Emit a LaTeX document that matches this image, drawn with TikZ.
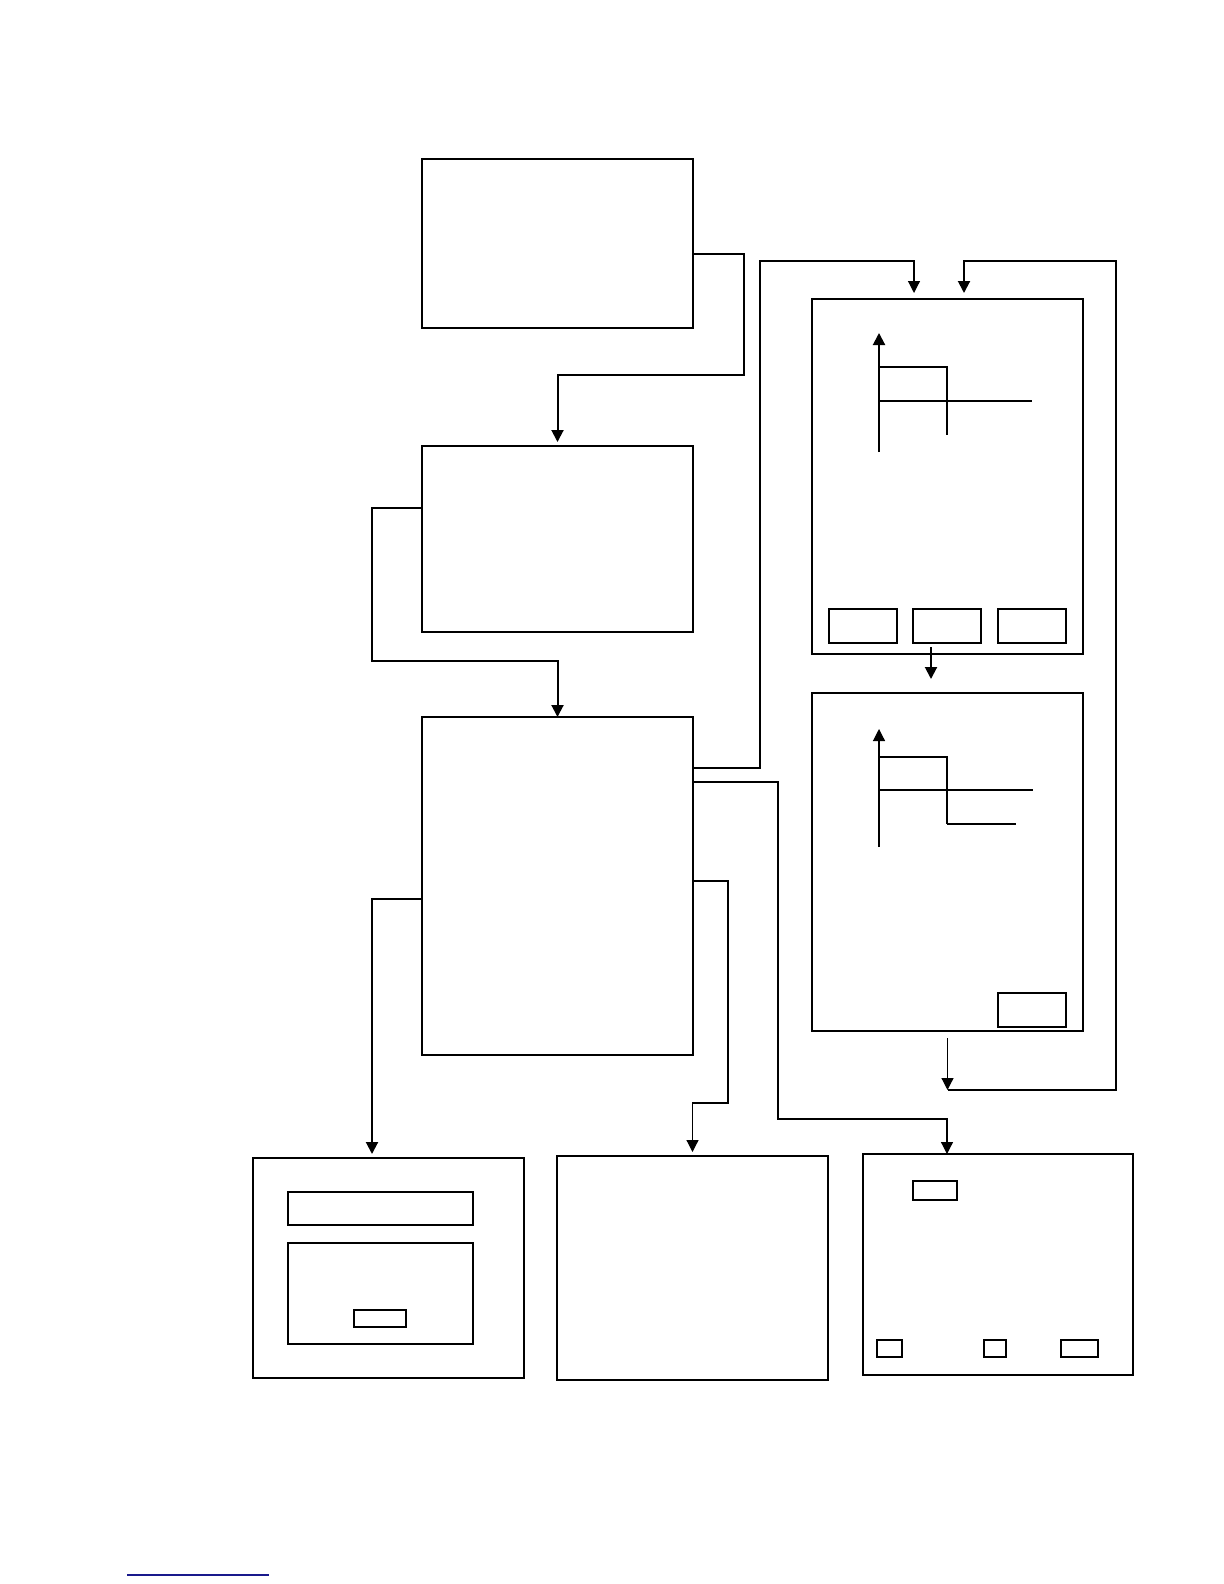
\documentclass[tikz,border=0pt]{standalone}
\usetikzlibrary{arrows.meta}
\definecolor{linkblue}{RGB}{25,25,140}
\tikzset{
  screen/.style={draw, line width=1.1pt, inner sep=0pt, outer sep=0pt, anchor=north west},
  btn/.style={draw, line width=.9pt, inner sep=0pt, outer sep=0pt, anchor=north west},
  wire/.style={line width=1pt},
  thin wire/.style={line width=.6pt}
}
\begin{document}
\begin{tikzpicture}[x=.5pt, y=-.5pt, line join=miter, >={Triangle[length=6pt,width=6pt]}]
			\useasboundingbox (0,0) rectangle (1224,1584);
			% screens
			\node[screen, minimum width=135.5pt, minimum height=84.5pt] (start) at (422,159) {};
			\node[screen, minimum width=135.5pt, minimum height=93pt] (menu) at (422,446) {};
			\node[screen, minimum width=135.5pt, minimum height=169pt] (main) at (422,717) {};
			\node[screen, minimum width=135.5pt, minimum height=177.5pt] (curveA) at (812,299) {};
			\node[screen, minimum width=135.5pt, minimum height=169pt] (curveB) at (812,693) {};
			\node[screen, minimum width=135.5pt, minimum height=110pt] (setup) at (253,1158) {};
			\node[screen, minimum width=135.5pt, minimum height=112pt] (help) at (557,1156) {};
			\node[screen, minimum width=135pt, minimum height=110.5pt] (list) at (863,1154) {};
			
			% buttons
			\foreach \x/\n in {829/1,913/2,998/3}{
				\node[btn, minimum width=34pt, minimum height=17pt] (btnA\n) at (\x,609) {};
			}
			\node[btn, minimum width=34pt, minimum height=17pt] (btnB) at (998,993) {};
			\node[btn, line width=.7pt, minimum width=92.5pt, minimum height=16.5pt] (field) at (288,1192) {};
			\node[btn, line width=.7pt, minimum width=92.5pt, minimum height=50.5pt] (panel) at (288,1243) {};
			\node[btn, minimum width=26pt, minimum height=8.5pt] (ok) at (354,1310) {};
			\node[btn, line width=.7pt, minimum width=22pt, minimum height=9.5pt] (tag) at (913,1181) {};
			\foreach \x/\w/\n in {877/12.5/1,984/11/2,1061/18.5/3}{
				\node[btn, line width=.7pt, minimum width=\w pt, minimum height=8.5pt] (btnR\n) at (\x,1340) {};
			}
			
			% curves
			\draw[wire,->] (879,452) -- (879,333);
			\draw[wire] (879,367) -| (947,435) (879,401) -- (1032,401);
			\draw[thin wire,->] (879,847) -- (879,729);
			\draw[thin wire] (879,757) -| (947,824) (879,790) -- (1033,790);
			\draw[wire] (947,824) -- (1016,824);
			
			% connectors
			\draw[wire,->,shorten >=2pt] (start.east |- 0,254) -| (744,375) -| (menu.north);
			\draw[wire,->] (menu.west |- 0,508) -| (372,661) -| (main.north);
			\draw[thin wire,->,shorten >=3pt] (main.east |- 0,768) -| (760,261) -| (914,0 |- curveA.north);
			\draw[thin wire,->] (main.east |- 0,782) -| (778,1119) -| (947,0 |- list.north);
			\draw[thin wire,->,shorten >=2pt] (main.east |- 0,881) -| (728,1103) -| (help.north);
			\draw[wire,->,shorten >=2pt] (main.west |- 0,899) -| (372,0 |- setup.north);
			\draw[wire,->,shorten <=2pt,shorten >=7pt] (931,0 |- btnA2.south) -- (931,0 |- curveB.north);
			\draw[thin wire,->] ([yshift=-3.5pt]curveB.south) -- (curveB.south |- 0,1090);
			\draw[wire,->,shorten >=3pt] (curveB.south |- 0,1090) -| (1116,261) -| (964,0 |- curveA.north);
			
			\draw[linkblue, line width=1pt] (127,1575) -- (269,1575);
		\end{tikzpicture}
\end{document}
